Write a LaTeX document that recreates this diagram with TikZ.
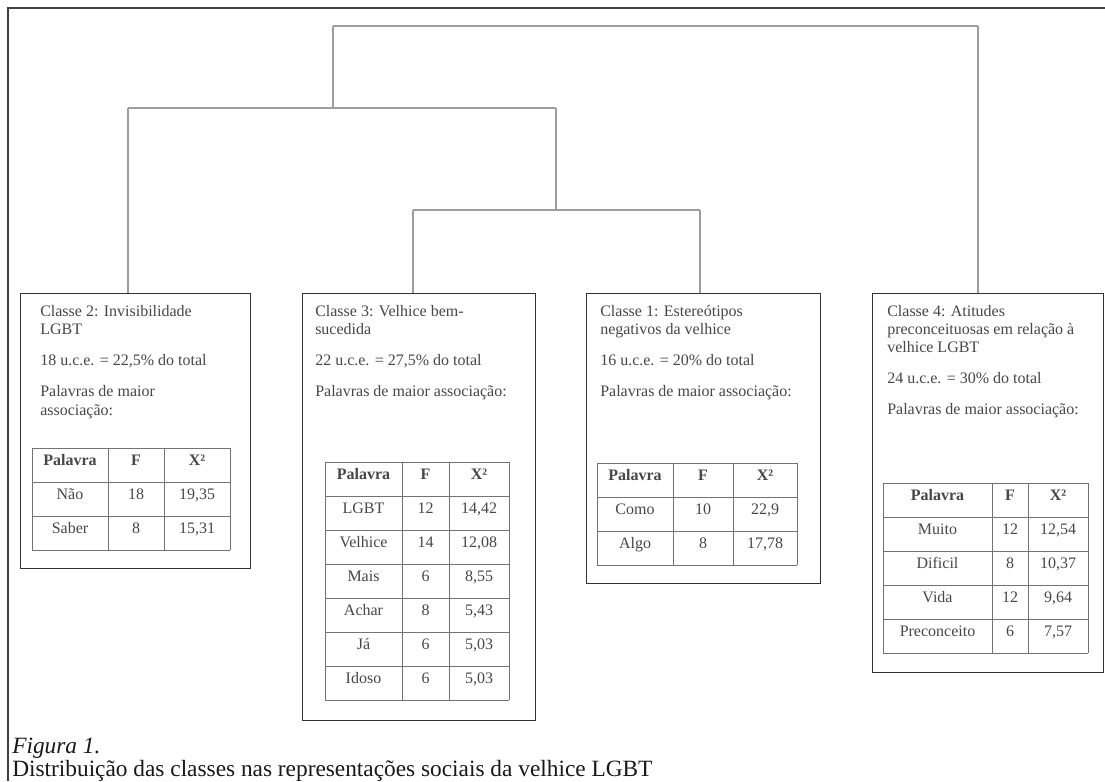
\documentclass[tikz,border=0pt]{standalone}
\usepackage{fontspec}
\setmainfont{Liberation Serif}
\newcommand\mytab[8]{%
  \foreach \k in {0,...,#7}{\draw[tline] (#2,{#6+34*\k}) -- (#5,{#6+34*\k});}%
  \foreach \xv in {#2,#3,#4,#5}{\draw[tline] (\xv,#6) -- (\xv,{#6+34*#7});}%
  \foreach [count=\i from 0] \w/\f/\q in {#8}{%
    \node[cell] (#1-\i-a) at ({(#2+#3)/2},{#6+34*\i+17}) {\w};
    \node[cell] (#1-\i-b) at ({(#3+#4)/2},{#6+34*\i+17}) {\f};
    \node[cell] (#1-\i-c) at ({(#4+#5)/2},{#6+34*\i+17}) {\q};
  }%
}
\begin{document}
\begin{tikzpicture}[x=0.75pt,y=-0.75pt,
  frame/.style={draw=black!75, line width=1.6pt},
  dend/.style={draw=black!38, line width=0.8pt},
  cbox/.style={draw=black!80, line width=1.1pt, anchor=north west, inner sep=0pt},
  txt/.style={anchor=base west, inner sep=0pt, font=\fontsize{12}{14}\selectfont, text=black!72},
  tline/.style={draw=black!55, line width=0.7pt},
  cell/.style={anchor=base, inner sep=0pt, font=\fontsize{12}{14}\selectfont, text=black!72},
  capt/.style={anchor=base west, inner sep=0pt, font=\fontsize{17.5}{20}\selectfont, text=black!90},
]
\useasboundingbox (0,0) rectangle (1105,781);
\fill[white] (0,0) rectangle (1105,781);
% outer frame
\draw[frame] (8,781) -- (8,8) -- (1105,8);

% boxes
\node[cbox, minimum width=172.5pt, minimum height=206.25pt] (c2) at (20,293) {};
\node[cbox, minimum width=174.75pt, minimum height=320.25pt] (c3) at (302,293) {};
\node[cbox, minimum width=175.5pt, minimum height=217.5pt] (c1) at (586,293) {};
\node[cbox, minimum width=173.25pt, minimum height=284.25pt] (c4) at (872,293) {};

% dendrogram
\coordinate (topl) at (333,26);  \coordinate (topr) at (978,26);
\coordinate (midl) at (128,108); \coordinate (midr) at (556,108);
\coordinate (lowl) at (413,210); \coordinate (lowr) at (700,210);
\draw[dend] (topl) -- (topr);
\draw[dend] (topl) -- (topl |- midl);
\draw[dend] (midl) -- (midr);
\draw[dend] (midl) -- (midl |- c2.north);
\draw[dend] (midr) -- (midr |- lowl);
\draw[dend] (lowl) -- (lowr);
\draw[dend] (lowl) -- (lowl |- c3.north);
\draw[dend] (lowr) -- (lowr |- c1.north);
\draw[dend] (topr) -- (topr |- c4.north);

% Classe 2
\node[txt] (c2a) at (40,316) {Classe 2: Invisibilidade};
\node[txt] (c2b) at (40,334) {LGBT};
\node[txt] (c2c) at (40,365) {18 u.c.e. = 22,5\% do total};
\node[txt] (c2d) at (40,396) {Palavras de maior};
\node[txt] (c2e) at (40,415) {associação:};
\mytab{t2}{32}{108}{164}{230}{448}{3}{\textbf{Palavra}/\textbf{F}/\textbf{X²},Não/18/{19,35},Saber/8/{15,31}}

% Classe 3
\node[txt] (c3a) at (315,316) {Classe 3: Velhice bem-};
\node[txt] (c3b) at (315,334) {sucedida};
\node[txt] (c3c) at (315,365) {22 u.c.e. = 27,5\% do total};
\node[txt] (c3d) at (315,396) {Palavras de maior associação:};
\mytab{t3}{325}{402}{449}{509}{462}{7}{\textbf{Palavra}/\textbf{F}/\textbf{X²},LGBT/12/{14,42},Velhice/14/{12,08},Mais/6/{8,55},Achar/8/{5,43},Já/6/{5,03},Idoso/6/{5,03}}

% Classe 1
\node[txt] (c1a) at (600,316) {Classe 1: Estereótipos};
\node[txt] (c1b) at (600,334) {negativos da velhice};
\node[txt] (c1c) at (600,365) {16 u.c.e. = 20\% do total};
\node[txt] (c1d) at (600,396) {Palavras de maior associação:};
\mytab{t1}{597}{673}{733}{797}{463}{3}{\textbf{Palavra}/\textbf{F}/\textbf{X²},Como/10/{22,9},Algo/8/{17,78}}

% Classe 4
\node[txt] (c4a) at (887,316) {Classe 4: Atitudes};
\node[txt] (c4b) at (887,334) {preconceituosas em relação à};
\node[txt] (c4c) at (887,352) {velhice LGBT};
\node[txt] (c4d) at (887,383) {24 u.c.e. = 30\% do total};
\node[txt] (c4e) at (887,414) {Palavras de maior associação:};
\mytab{t4}{883}{992}{1028}{1088}{483}{5}{\textbf{Palavra}/\textbf{F}/\textbf{X²},Muito/12/{12,54},Dificil/8/{10,37},Vida/12/{9,64},Preconceito/6/{7,57}}

% caption
\node[capt, font=\fontsize{17.5}{20}\selectfont\itshape] (fig) at (12,753) {Figura 1.};
\node[capt] (cap) at (12,776) {Distribuição das classes nas representações sociais da velhice LGBT};
\end{tikzpicture}
\end{document}
